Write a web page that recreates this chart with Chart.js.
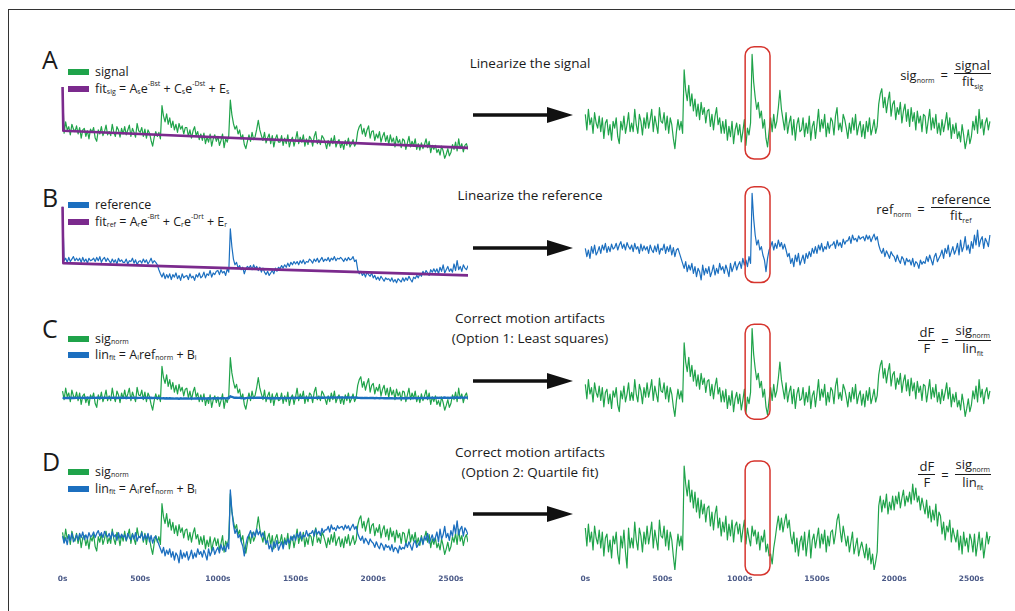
<!DOCTYPE html>
<html><head><meta charset="utf-8">
<script src="https://cdn.jsdelivr.net/npm/chart.js@4.4.1/dist/chart.umd.min.js"></script>
<style>
html,body{margin:0;padding:0;background:#fff;}
body{width:1015px;height:611px;position:relative;overflow:hidden;font-family:"Open Sans",sans-serif;color:#1a1a1a;}
#frame{position:absolute;left:8px;top:9px;width:1100px;height:700px;border-left:1px solid #333;border-top:1px solid #333;}
.abs{position:absolute;white-space:nowrap;}
.letter{font-size:25px;line-height:25px;left:42px;}
.leg{left:68px;font-size:12.5px;line-height:14px;display:flex;align-items:center;}
.sw{display:inline-block;width:21px;height:6px;margin-right:6px;}
.sb{font-size:7px;position:relative;top:3px;}
.sp{font-size:7px;position:relative;top:-5px;}
.title{left:430px;width:200px;text-align:center;font-size:13.5px;line-height:20px;}
.frm{right:24px;font-size:13px;display:flex;align-items:center;}
.frac{display:inline-flex;flex-direction:column;align-items:center;line-height:15px;}
.num{border-bottom:1px solid #1a1a1a;padding:0 1px;}
.eq{margin:0 6px;}
canvas{position:absolute;}
</style></head>
<body>
<div id="frame"></div>

<div class="abs letter" style="top:47px">A</div>
<div class="abs letter" style="top:185px">B</div>
<div class="abs letter" style="top:316px">C</div>
<div class="abs letter" style="top:449px">D</div>

<div class="abs leg" style="top:65px"><span class="sw" style="background:#1fa34a"></span>signal</div>
<div class="abs leg" style="top:82px"><span class="sw" style="background:#7b2a8d"></span>fit<span class="sb">sig</span>&nbsp;= A<span class="sb">s</span>e<span class="sp">-Bst</span>&nbsp;+ C<span class="sb">s</span>e<span class="sp">-Dst</span>&nbsp;+ E<span class="sb">s</span></div>
<div class="abs leg" style="top:198px"><span class="sw" style="background:#1c6fbf"></span>reference</div>
<div class="abs leg" style="top:215px"><span class="sw" style="background:#7b2a8d"></span>fit<span class="sb">ref</span>&nbsp;= A<span class="sb">r</span>e<span class="sp">-Brt</span>&nbsp;+ C<span class="sb">r</span>e<span class="sp">-Drt</span>&nbsp;+ E<span class="sb">r</span></div>
<div class="abs leg" style="top:332px"><span class="sw" style="background:#1fa34a"></span>sig<span class="sb">norm</span></div>
<div class="abs leg" style="top:348px"><span class="sw" style="background:#1c6fbf"></span>lin<span class="sb">fit</span>&nbsp;= A<span class="sb">l</span>ref<span class="sb">norm</span>&nbsp;+ B<span class="sb">l</span></div>
<div class="abs leg" style="top:465px"><span class="sw" style="background:#1fa34a"></span>sig<span class="sb">norm</span></div>
<div class="abs leg" style="top:482px"><span class="sw" style="background:#1c6fbf"></span>lin<span class="sb">fit</span>&nbsp;= A<span class="sb">l</span>ref<span class="sb">norm</span>&nbsp;+ B<span class="sb">l</span></div>

<div class="abs title" style="top:53px">Linearize the signal</div>
<div class="abs title" style="top:185px">Linearize the reference</div>
<div class="abs title" style="top:308px">Correct motion artifacts<br>(Option 1: Least squares)</div>
<div class="abs title" style="top:442px">Correct motion artifacts<br>(Option 2: Quartile fit)</div>

<svg class="abs" style="left:470px;top:105px" width="110" height="20"><line x1="3" y1="10" x2="80" y2="10" stroke="#111" stroke-width="3.5"/><polygon points="77,2 103,10 77,18" fill="#111"/></svg>
<svg class="abs" style="left:470px;top:238px" width="110" height="20"><line x1="3" y1="10" x2="80" y2="10" stroke="#111" stroke-width="3.5"/><polygon points="77,2 103,10 77,18" fill="#111"/></svg>
<svg class="abs" style="left:470px;top:371px" width="110" height="20"><line x1="3" y1="10" x2="80" y2="10" stroke="#111" stroke-width="3.5"/><polygon points="77,2 103,10 77,18" fill="#111"/></svg>
<svg class="abs" style="left:470px;top:504px" width="110" height="20"><line x1="3" y1="10" x2="80" y2="10" stroke="#111" stroke-width="3.5"/><polygon points="77,2 103,10 77,18" fill="#111"/></svg>

<div class="abs frm" style="top:58px"><span>sig<span class="sb">norm</span></span><span class="eq">=</span><span class="frac"><span class="num">signal</span><span>fit<span class="sb">sig</span></span></span></div>
<div class="abs frm" style="top:192px"><span>ref<span class="sb">norm</span></span><span class="eq">=</span><span class="frac"><span class="num">reference</span><span>fit<span class="sb">ref</span></span></span></div>
<div class="abs frm" style="top:323px"><span class="frac"><span class="num">dF</span><span>F</span></span><span class="eq">=</span><span class="frac"><span class="num">sig<span class="sb">norm</span></span><span>lin<span class="sb">fit</span></span></span></div>
<div class="abs frm" style="top:457px"><span class="frac"><span class="num">dF</span><span>F</span></span><span class="eq">=</span><span class="frac"><span class="num">sig<span class="sb">norm</span></span><span>lin<span class="sb">fit</span></span></span></div>

<script>
// ---------------- DATA ----------------
const SAMPLE_STEP = 10; // seconds between samples (0 ... 2620 s)
const tickSeconds = [0, 500, 1000, 1500, 2000, 2500];
const tickLabels = ['0s', '500s', '1000s', '1500s', '2000s', '2500s'];

// raw signal (A, left), drifting downward
const signal = [
154,97,111,101,105,95,108,102,99,106, 96,104,91,101,103,93,100,90,102,98,
104,91,87,101,96,105,94,99,107,95, 99,94,108,98,93,105,101,92,103,96,
105,95,101,107,93,103,98,92,109,100, 98,104,93,102,91,101,97,88,81,92,
99,93,98,90,131,118,111,121,108,116, 104,112,101,108,98,109,102,106,96,104,
104,93,101,91,100,105,94,99,89,96, 88,97,84,92,86,96,81,90,95,87,
93,82,88,96,79,90,86,94,138,120, 109,102,106,96,101,90,95,83,78,87,
95,87,98,89,93,102,113,101,94,88, 98,85,91,96,84,94,80,90,95,86,
86,94,82,91,84,95,80,88,92,81, 89,99,84,92,86,95,81,90,83,93,
90,81,93,99,84,89,83,94,91,86, 78,88,81,91,84,94,80,86,89,79,
86,77,88,82,91,80,84,89,81,85, 99,105,108,96,103,93,101,106,91,99,
100,88,96,91,99,86,93,98,87,94, 83,95,86,91,80,93,85,89,79,90,
88,77,85,93,80,87,81,90,77,84, 76,85,78,83,90,79,87,73,82,77,
82,73,77,70,81,75,66,71,78,69, 73,83,77,86,75,90,78,84,74,82,
84,77,82];
const fitSigTimes = [0, 5, 2620];
const fitSigValues = [154, 100, 78.8];

// raw reference (B, left)
const reference = [
169,103,106,101,107,102,105,108,103,106, 103,106,101,107,102,105,100,106,103,104,
106,102,107,103,108,101,105,107,102,106, 103,100,105,101,104,99,106,102,104,101,
101,105,99,103,102,106,100,104,98,102, 103,100,105,101,104,99,102,106,100,103,
101,98,92,87,83,88,81,86,82,87, 80,86,83,88,81,85,79,87,82,84,
85,80,87,82,84,79,86,83,88,82, 84,89,82,87,85,91,83,88,86,90,
91,86,92,88,90,85,93,89,142,120, 105,98,101,94,97,92,95,87,93,96,
94,97,92,98,93,96,91,95,89,94, 89,86,90,85,88,91,87,94,90,95,
93,97,94,98,95,100,96,101,98,102, 99,102,98,103,100,104,99,102,101,105,
103,100,105,102,106,101,104,107,102,105, 103,107,102,106,104,108,103,106,105,107,
105,102,106,103,107,104,105,108,102,104, 92,87,90,85,88,83,89,86,84,88,
82,85,80,83,79,84,81,78,82,80, 81,78,82,77,80,76,81,79,77,82,
78,82,79,84,80,77,83,81,85,82, 87,84,90,86,91,88,85,92,89,93,
89,93,87,95,90,98,88,92,96,90, 93,89,99,91,103,92,96,90,98,94,
92,97,94];
const fitRefTimes = [0, 5, 2620];
const fitRefValues = [169, 100, 85];

// normalised signal (sig_norm) - A right, C, D
const sigNorm = [
14,-4,20,2,10,-8,16,4,-2,12, -6,10,-14,4,8,-10,2,-16,6,-2,
10,-12,-20,6,-4,12,-8,2,16,-6, 4,-6,20,2,-8,14,6,-10,10,-2,
16,-2,8,20,-6,12,2,-8,22,6, 4,16,-4,12,-8,10,2,-14,-26,-6,
8,-4,6,-8,66,42,30,48,24,38, 18,32,12,26,8,28,14,22,4,18,
20,0,14,-4,12,22,2,10,-8,6, -8,8,-16,0,-12,6,-20,-4,4,-10,
2,-18,-6,8,-22,-2,-10,4,84,52, 34,20,28,10,18,-2,8,-14,-24,-6,
10,-6,14,-2,6,22,42,20,8,-4, 16,-8,4,12,-10,8,-16,2,10,-6,
-4,10,-12,4,-8,12,-16,0,6,-14, 2,20,-6,8,-2,14,-12,4,-8,10,
6,-10,12,22,-4,4,-6,14,8,-2, -14,4,-8,10,-4,14,-10,0,6,-12,
2,-14,6,-6,10,-10,-2,8,-8,0, 26,38,44,22,34,16,30,40,12,26,
30,8,22,14,28,4,18,26,6,20, 0,22,6,16,-4,18,4,12,-6,14,
12,-8,6,20,-4,10,-2,14,-8,4, -10,8,-6,4,16,-4,10,-14,2,-8,
4,-14,-6,-18,2,-10,-26,-16,-4,-20, -12,6,-4,12,-8,20,-2,8,-10,4,
10,-4,6];

// normalised reference (ref_norm) - B right; lin_fit = A*ref_norm + B in C and D
const refNorm = [
4,-6,2,-8,6,-2,8,-4,0,6, -2,8,2,10,-1,6,0,9,3,5,
10,2,8,12,4,9,2,11,6,3, 8,0,10,3,6,-2,9,1,7,2,
6,-2,8,2,-1,7,0,9,-3,4, 2,9,-2,6,0,8,-4,5,-6,2,
4,-2,-8,-14,-20,-12,-24,-16,-22,-14, -26,-18,-30,-20,-24,-34,-16,-28,-20,-26,
-18,-30,-24,-16,-28,-20,-26,-14,-22,-18, -26,-16,-22,-30,-14,-24,-18,-12,-22,-16,
-12,-20,-8,-16,-10,-18,-6,-14,70,40, 20,8,14,2,6,-4,-10,-24,-8,2,
6,12,2,10,4,14,6,11,3,9, 2,-6,-2,-14,-8,-18,-4,-12,-2,-16,
-10,-4,-14,-2,-8,0,-6,4,-2,6, -2,8,2,10,0,6,3,12,4,8,
8,12,4,14,7,11,5,15,9,13, 13,18,10,20,14,16,12,19,15,17,
18,13,20,15,19,12,17,21,14,18, 8,2,-2,4,-6,1,-3,-8,0,-4,
-6,-12,-4,-10,-14,-6,-9,-16,-8,-12, -10,-16,-8,-18,-12,-14,-20,-10,-15,-12,
-14,-6,-12,-4,-10,-16,-6,-2,-12,-8, -4,2,-8,4,-2,8,-6,0,6,-3,
2,10,-4,14,0,6,18,2,8,-2, 12,4,20,8,26,6,14,18,4,16,
12,6,20];

// dF/F after quartile fit (D right)
const dffQuartile = [
12,-6,16,-2,8,-10,14,2,-4,10, -8,8,-16,2,6,-12,0,-18,4,-4,
8,-14,-24,4,-8,10,-12,-28,12,-8, 2,-8,18,0,-10,12,4,-12,8,-4,
14,-4,6,18,-8,10,0,-10,20,4, 2,14,-6,10,-10,8,0,-16,-30,-10,
6,-6,4,-10,74,56,44,60,38,50, 32,48,28,42,22,40,26,36,18,32,
34,14,28,10,26,34,12,22,4,18, 8,24,0,16,4,20,-2,14,18,6,
16,-2,10,20,-4,12,2,-6,14,4, 10,-4,8,-10,4,-2,10,-12,-4,-16,
-14,-24,-8,2,14,24,10,22,8,18, 26,12,20,4,-4,8,-12,2,-16,-2,
4,-10,8,-16,-2,10,-18,0,6,-8, 2,12,-8,6,-4,10,-12,4,-6,8,
10,-4,6,20,26,10,-2,14,4,-6, 4,-12,-2,8,-14,-6,2,-16,-8,-2,
-10,-18,-4,-20,-8,-24,-14,-30,-22,-12, 34,44,28,40,32,46,26,38,30,44,
30,44,36,48,32,42,50,34,44,38, 48,36,56,40,52,38,44,30,42,34,
26,40,22,34,18,30,20,36,14,28, 24,6,18,0,14,8,20,-2,12,4,
-2,10,-10,4,-14,8,-6,2,-12,6, 0,-12,6,-16,-4,8,-10,2,-18,-6,
8,-4,4];

// highlighted window (seconds)
const highlightStart = 1035;
const highlightEnd = 1196;

// ---------------- RENDERING ----------------
const times = sigNorm.map((_, i) => i * SAMPLE_STEP);
const GREEN = '#1fa34a', BLUE = '#1c6fbf', PURPLE = '#7b2a8d', RED = '#d6352e';
const TICK_H = 20;
const SIDES = {
  L: { left: 41, w: 447, xMin: -10, xMax: 2610 },
  R: { left: 563, w: 450, xMin: -15, xMax: 2640 }
};
const pts = (xs, ys) => ys.map((v, i) => ({ x: xs[i], y: v }));
const line = (xs, ys, color, width, axis) => ({
  data: pts(xs, ys), borderColor: color, borderWidth: width, pointRadius: 0,
  fill: false, tension: 0, borderJoinStyle: 'round', yAxisID: axis || 'y'
});

const boxPlugin = {
  id: 'box',
  afterDatasetsDraw(chart, args, opts) {
    if (!opts.range) return;
    const xs = chart.scales.x, ys = chart.scales.y, ctx = chart.ctx;
    const x0 = xs.getPixelForValue(highlightStart), x1 = xs.getPixelForValue(highlightEnd);
    const y0 = ys.getPixelForValue(opts.range[0]), y1 = ys.getPixelForValue(opts.range[1]);
    ctx.save();
    ctx.strokeStyle = RED; ctx.lineWidth = 1.5;
    ctx.beginPath(); ctx.roundRect(x0, y0, x1 - x0, y1 - y0, 9); ctx.stroke();
    ctx.restore();
  }
};

const panels = [
  { side: 'L', top: 80, areaH: 105, y: [57.7, 162.7],
    datasets: [line(fitSigTimes, fitSigValues, PURPLE, 2.6), line(times, signal, GREEN, 1.2)] },
  { side: 'R', top: 45, areaH: 140, y: [-45, 95], box: [93, -38],
    datasets: [line(times, sigNorm, GREEN, 1.2)] },
  { side: 'L', top: 195, areaH: 110, y: [73.3, 183.3],
    datasets: [line(fitRefTimes, fitRefValues, PURPLE, 2.6), line(times, reference, BLUE, 1.2)] },
  { side: 'R', top: 185, areaH: 120, y: [-40, 80], box: [78, -37],
    datasets: [line(times, refNorm, BLUE, 1.2)] },
  { side: 'L', top: 350, areaH: 95, y: [-57, 100], y2: [-1143, 2023],
    datasets: [line(times, refNorm, BLUE, 2.4, 'y2'), line(times, sigNorm, GREEN, 1.2)] },
  { side: 'R', top: 320, areaH: 125, y: [-36.8, 94.7], box: [89.4, -29.5],
    datasets: [line(times, sigNorm, GREEN, 1.2)] },
  { side: 'L', top: 470, areaH: 100, ticks: true, y: [-54.5, 127.3], y2: [-44.3, 98.6],
    datasets: [line(times, refNorm, BLUE, 1.3, 'y2'), line(times, sigNorm, GREEN, 1.2)] },
  { side: 'R', top: 455, areaH: 115, ticks: true, y: [-30, 85], box: [79, -35],
    datasets: [line(times, dffQuartile, GREEN, 1.2)] }
];

panels.forEach(p => {
  const s = SIDES[p.side];
  const h = p.areaH + (p.ticks ? TICK_H : 0);
  const cv = document.createElement('canvas');
  cv.width = s.w; cv.height = h;
  cv.style.left = s.left + 'px'; cv.style.top = p.top + 'px';
  cv.style.width = s.w + 'px'; cv.style.height = h + 'px';
  document.body.appendChild(cv);
  const scales = {
    x: {
      type: 'linear', min: s.xMin, max: s.xMax, display: !!p.ticks,
      grid: { display: false, drawTicks: false }, border: { display: false },
      afterBuildTicks: sc => { sc.ticks = tickSeconds.map(v => ({ value: v })); },
      afterFit: sc => { sc.height = TICK_H; sc.paddingLeft = 0; sc.paddingRight = 0; },
      ticks: {
        autoSkip: false, maxRotation: 0, padding: 5, color: '#4a5987',
        font: { family: 'DejaVu Sans', size: 7.5, weight: 'bold' },
        callback: v => tickLabels[tickSeconds.indexOf(v)]
      }
    },
    y: { display: false, min: p.y[0], max: p.y[1] }
  };
  if (p.y2) scales.y2 = { display: false, min: p.y2[0], max: p.y2[1] };
  new Chart(cv, {
    type: 'line',
    data: { datasets: p.datasets },
    options: {
      responsive: false, animation: false, devicePixelRatio: 1, events: [],
      layout: { padding: { left: 20, right: 20, top: 0, bottom: 0 } },
      scales,
      plugins: { legend: { display: false }, tooltip: { enabled: false }, box: { range: p.box || null } }
    },
    plugins: [boxPlugin]
  });
});
</script>
</body></html>
